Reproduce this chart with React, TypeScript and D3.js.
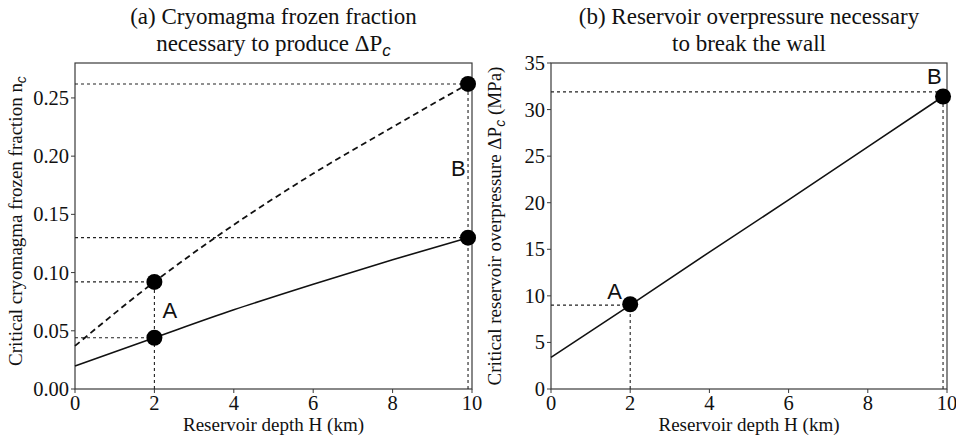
import React from "react";
import * as d3 from "d3";

// Reservoir depth samples (km)
const depthKm = [0, 2, 4, 6, 8, 9.9];
// Critical frozen fraction n_c, two model cases
const fractionSolid = [0.0197, 0.044, 0.068, 0.09, 0.111, 0.13];
const fractionDashed = [0.037, 0.092, 0.141, 0.185, 0.225, 0.262];
// Critical reservoir overpressure ΔP_c (MPa)
const overpressure = [3.4, 9.0, 14.7, 20.3, 26.0, 31.4];

// Highlighted points
const leftPoints = [
  { h: 2, n: 0.044 },
  { h: 2, n: 0.092 },
  { h: 9.9, n: 0.13 },
  { h: 9.9, n: 0.262 },
];
const rightPoints = [
  { h: 2, p: 9.1 },
  { h: 9.9, p: 31.4 },
];
const rightGuides = [
  { h: 2, p: 9.0 },
  { h: 9.9, p: 31.9 },
];

const xTicks = [0, 2, 4, 6, 8, 10];
const leftYTicks = [0, 0.05, 0.1, 0.15, 0.2, 0.25];
const rightYTicks = [0, 5, 10, 15, 20, 25, 30, 35];

const W = 956;
const H = 438;
const serif = "'Liberation Serif', 'Times New Roman', serif";
const sans = "'Liberation Sans', Arial, sans-serif";
const ink = "#111";
const frame = "#3a3a3a";

const top = 63;
const bottom = 389;

const xl = d3.scaleLinear().domain([0, 10]).range([75, 472]);
const yl = d3.scaleLinear().domain([0, 0.28]).range([bottom, top]);
const xr = d3.scaleLinear().domain([0, 10]).range([551, 947]);
const yr = d3.scaleLinear().domain([0, 35]).range([bottom, top]);

function Frame({ x, y, yTicks, yFmt }: any) {
  const [x0, x1] = x.range();
  return (
    <g>
      <rect x={x0} y={top} width={x1 - x0} height={bottom - top} fill="none" stroke={frame} strokeWidth={1.2} />
      {xTicks.map((t) => (
        <g key={"x" + t}>
          <line x1={x(t)} x2={x(t)} y1={bottom} y2={bottom + 4} stroke={frame} strokeWidth={1} />
          <text x={x(t)} y={bottom + 21} textAnchor="middle" fontFamily={serif} fontSize={20.5} fill={ink}>
            {t}
          </text>
        </g>
      ))}
      {yTicks.map((t: number) => (
        <g key={"y" + t}>
          <line x1={x0 - 4} x2={x0} y1={y(t)} y2={y(t)} stroke={frame} strokeWidth={1} />
          <text x={x0 - 6} y={y(t) + 7} textAnchor="end" fontFamily={serif} fontSize={20.5} fill={ink}>
            {yFmt(t)}
          </text>
        </g>
      ))}
      <text x={(x0 + x1) / 2} y={431} textAnchor="middle" fontFamily={serif} fontSize={19} fill={ink}>
        Reservoir depth H (km)
      </text>
    </g>
  );
}

export default function App() {
  const lineL = d3
    .line<number>()
    .x((_, i) => xl(depthKm[i]))
    .curve(d3.curveMonotoneX);
  const solidPath = lineL.y((v) => yl(v))(fractionSolid) || "";
  const dashedPath = lineL.y((v) => yl(v))(fractionDashed) || "";
  const pressPath =
    d3
      .line<number>()
      .x((_, i) => xr(depthKm[i]))
      .y((v) => yr(v))(overpressure) || "";

  const dot = { stroke: "#222", strokeWidth: 1.1, strokeDasharray: "3 3" };
  const r = 8;

  return (
    <svg width={W} height={H} style={{ position: "absolute", left: 0, top: 0, background: "#fff" }}>
      {/* Panel (a) */}
      <text textAnchor="middle" fontFamily={serif} fontSize={23} fill={ink}>
        <tspan x={273.5} y={24}>(a) Cryomagma frozen fraction</tspan>
        <tspan x={273.5} y={51}>
          necessary to produce ΔP
          <tspan fontFamily={sans} fontStyle="italic" fontSize={17} dy={5}>c</tspan>
        </tspan>
      </text>
      <Frame x={xl} y={yl} yTicks={leftYTicks} yFmt={d3.format(".2f")} />
      {leftPoints.map((p, i) => (
        <line key={"lh" + i} x1={xl(0)} x2={xl(p.h)} y1={yl(p.n)} y2={yl(p.n)} {...dot} />
      ))}
      <line x1={xl(2)} x2={xl(2)} y1={yl(0)} y2={yl(0.092)} {...dot} />
      <line x1={xl(9.9)} x2={xl(9.9)} y1={yl(0)} y2={yl(0.262)} {...dot} />
      <path d={solidPath} fill="none" stroke={ink} strokeWidth={1.6} />
      <path d={dashedPath} fill="none" stroke={ink} strokeWidth={1.8} strokeDasharray="6 4" />
      {leftPoints.map((p, i) => (
        <circle key={"lc" + i} cx={xl(p.h)} cy={yl(p.n)} r={r} fill="#000" />
      ))}
      <text x={xl(2) + 8} y={yl(0.068) + 8} fontFamily={sans} fontSize={22} fill={ink}>A</text>
      <text x={xl(9.9) - 17} y={yl(0.19) + 8} fontFamily={sans} fontSize={22} fill={ink}>B</text>
      <text
        transform={`translate(22, ${(top + bottom) / 2 - 5}) rotate(-90)`}
        textAnchor="middle"
        fontFamily={serif}
        fontSize={19}
        fill={ink}
      >
        Critical cryomagma frozen fraction n
        <tspan fontFamily={sans} fontStyle="italic" fontSize={14} dy={4}>c</tspan>
      </text>

      {/* Panel (b) */}
      <text textAnchor="middle" fontFamily={serif} fontSize={23} fill={ink}>
        <tspan x={749} y={24}>(b) Reservoir overpressure necessary</tspan>
        <tspan x={749} y={51}>to break the wall</tspan>
      </text>
      <Frame x={xr} y={yr} yTicks={rightYTicks} yFmt={(t: number) => String(t)} />
      {rightGuides.map((p, i) => (
        <g key={"rg" + i}>
          <line x1={xr(0)} x2={xr(p.h)} y1={yr(p.p)} y2={yr(p.p)} {...dot} />
          <line x1={xr(p.h)} x2={xr(p.h)} y1={yr(0)} y2={yr(p.p)} {...dot} />
        </g>
      ))}
      <path d={pressPath} fill="none" stroke={ink} strokeWidth={1.6} />
      {rightPoints.map((p, i) => (
        <circle key={"rc" + i} cx={xr(p.h)} cy={yr(p.p)} r={r} fill="#000" />
      ))}
      <text x={xr(2) - 23} y={yr(9) - 6} fontFamily={sans} fontSize={22} fill={ink}>A</text>
      <text x={xr(9.9) - 16} y={yr(33.6) + 8} fontFamily={sans} fontSize={22} fill={ink}>B</text>
      <text
        transform={`translate(501, ${(top + bottom) / 2}) rotate(-90)`}
        textAnchor="middle"
        fontFamily={serif}
        fontSize={19}
        fill={ink}
      >
        Critical reservoir overpressure ΔP
        <tspan fontFamily={sans} fontStyle="italic" fontSize={14} dy={4}>c</tspan>
        <tspan dy={-4}> (MPa)</tspan>
      </text>
    </svg>
  );
}
